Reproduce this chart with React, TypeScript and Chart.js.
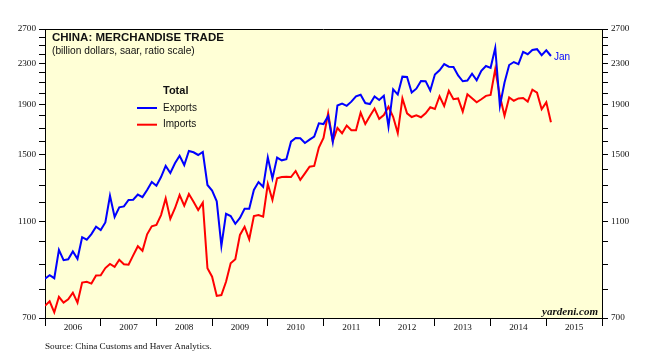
import React, { useEffect, useRef } from 'react';
import { Chart, registerables } from 'chart.js';

Chart.register(...registerables);

// Monthly, seasonally adjusted annual rate, billion dollars.
// First observation = Dec 2005 (plotted at month end), last = Jan 2015.
const firstPointYear = 2006;
const exportsData = [
  841, 855, 843, 962, 917, 921, 955, 923, 1021, 1009, 1036, 1072,
  1056, 1094, 1239, 1122, 1174, 1179, 1215, 1216, 1246, 1231, 1273, 1321,
  1298, 1352, 1424, 1378, 1442, 1494, 1430, 1527, 1518, 1499, 1520, 1303,
  1269, 1207, 980, 1139, 1127, 1087, 1117, 1166, 1166, 1273, 1321, 1292,
  1483, 1344, 1481, 1462, 1470, 1595, 1623, 1621, 1585, 1610, 1633, 1738,
  1732, 1798, 1595, 1889, 1905, 1886, 1923, 1972, 1986, 1911, 1902, 1970,
  1938, 1977, 1711, 2038, 1988, 2161, 2158, 2007, 2043, 2118, 2116, 2026,
  2183, 2226, 2291, 2264, 2261, 2173, 2115, 2123, 2191, 2125, 2221, 2271,
  2252, 2471, 1884, 2103, 2282, 2314, 2291, 2427, 2400, 2448, 2457, 2389,
  2444, 2380,
];
const importsData = [
  741, 757, 719, 773, 752, 764, 788, 752, 826, 829, 822, 854,
  855, 884, 901, 889, 919, 900, 898, 938, 979, 958, 1035, 1074,
  1081, 1132, 1224, 1112, 1169, 1243, 1183, 1249, 1205, 1159, 1200, 883,
  849, 776, 779, 829, 904, 921, 1032, 1072, 1011, 1127, 1132, 1124,
  1309, 1215, 1344, 1352, 1354, 1352, 1391, 1334, 1376, 1419, 1424, 1552,
  1624, 1821, 1599, 1700, 1659, 1720, 1682, 1682, 1826, 1732, 1798, 1862,
  1775, 1807, 1878, 1792, 1661, 1953, 1821, 1790, 1804, 1788, 1821, 1873,
  1858, 1972, 1884, 2023, 1945, 1952, 1835, 1991, 1953, 1917, 1945, 1976,
  1984, 2238, 1974, 1801, 1961, 1931, 1952, 1956, 1923, 2033, 2005, 1856,
  1917, 1746,
];
const yearLabels = ['2006', '2007', '2008', '2009', '2010', '2011', '2012', '2013', '2014', '2015'];
const yTickValues = [700, 800, 900, 1000, 1100, 1200, 1300, 1400, 1500, 1600, 1700, 1800, 1900, 2000, 2100, 2200, 2300, 2400, 2500, 2600, 2700];
const yLabelValues = [700, 1100, 1500, 1900, 2300, 2700];
const yMin = 700;
const yMax = 2700;

const titleText = 'CHINA: MERCHANDISE TRADE';
const subtitleText = '(billion dollars, saar, ratio scale)';
const legendTitle = 'Total';
const seriesNames = ['Exports', 'Imports'];
const seriesColors = ['#0000ff', '#ff0000'];
const lastLabel = 'Jan';
const sourceText = 'Source: China Customs and Haver Analytics.';
const brandText = 'yardeni.com';

const SERIF = "'Liberation Serif', 'Times New Roman', serif";
const SANS = "'Liberation Sans', Arial, sans-serif";

const toPoints = (arr: number[]) =>
  arr.map((v, i) => ({ x: firstPointYear + i / 12, y: v }));

export default function App() {
  const canvasRef = useRef<HTMLCanvasElement | null>(null);

  useEffect(() => {
    const canvas = canvasRef.current;
    if (!canvas) return;

    const decor = {
      id: 'decor',
      beforeDraw(chart: any) {
        const { ctx, chartArea: a } = chart;
        ctx.save();
        ctx.fillStyle = '#ffffff';
        ctx.fillRect(0, 0, chart.width, chart.height);
        ctx.fillStyle = '#ffffd6';
        ctx.fillRect(a.left, a.top, a.right - a.left, a.bottom - a.top);
        ctx.restore();
      },
      afterDraw(chart: any) {
        const { ctx, chartArea: a } = chart;
        ctx.save();
        // frame
        ctx.strokeStyle = '#000';
        ctx.lineWidth = 1;
        ctx.beginPath();
        ctx.moveTo(a.left, a.top + 0.5);
        ctx.lineTo(a.right, a.top + 0.5);
        ctx.stroke();

        ctx.fillStyle = '#111';
        ctx.textAlign = 'left';
        ctx.textBaseline = 'middle';
        ctx.font = `bold 11.5px ${SANS}`;
        ctx.fillText(titleText, a.left + 7, a.top + 9);
        ctx.font = `10.2px ${SANS}`;
        ctx.fillText(subtitleText, a.left + 7, a.top + 22.5);

        // legend
        const lx = a.left + 118;
        ctx.font = `bold 11px ${SANS}`;
        ctx.fillText(legendTitle, lx, a.top + 62);
        ctx.font = `10px ${SANS}`;
        seriesNames.forEach((n, i) => {
          const y = a.top + 79 + i * 16.7;
          ctx.strokeStyle = seriesColors[i];
          ctx.lineWidth = 2;
          ctx.beginPath();
          ctx.moveTo(lx - 26, y);
          ctx.lineTo(lx - 6, y);
          ctx.stroke();
          ctx.fillStyle = '#111';
          ctx.fillText(n, lx, y);
        });

        // last point label
        const xs = chart.scales.x;
        const ys = chart.scales.y;
        const lastIdx = exportsData.length - 1;
        const px = xs.getPixelForValue(firstPointYear + lastIdx / 12);
        const py = ys.getPixelForValue(exportsData[lastIdx]);
        ctx.fillStyle = seriesColors[0];
        ctx.font = `10px ${SANS}`;
        ctx.fillText(lastLabel, px + 3, py + 1);

        // brand
        ctx.fillStyle = '#111';
        ctx.textAlign = 'right';
        ctx.font = `italic bold 11px ${SERIF}`;
        ctx.fillText(brandText, a.right - 4, a.bottom - 6);

        // source
        ctx.textAlign = 'left';
        ctx.font = `9.2px ${SERIF}`;
        ctx.fillText(sourceText, a.left, 347);
        ctx.restore();
      },
    };

    const yAxis = (position: 'left' | 'right', width: number) => ({
      type: 'logarithmic' as const,
      position,
      min: yMin,
      max: yMax,
      afterBuildTicks: (scale: any) => {
        scale.ticks = yTickValues.map((v) => ({ value: v }));
      },
      afterFit: (scale: any) => {
        scale.width = width;
      },
      ticks: {
        autoSkip: false,
        padding: 3,
        color: '#111',
        font: { family: SERIF, size: 9.2 },
        callback: (v: any) => (yLabelValues.includes(Number(v)) ? String(v) : ''),
      },
      grid: {
        drawOnChartArea: false,
        drawTicks: true,
        tickLength: 6,
        color: '#000',
      },
      border: { display: true, color: '#000', width: 1 },
    });

    const xTickValues: number[] = [];
    for (let i = 0; i <= yearLabels.length * 2; i++) xTickValues.push(2006 + i / 2);

    const chart = new Chart(canvas, {
      type: 'line',
      data: {
        datasets: [
          {
            label: seriesNames[0],
            data: toPoints(exportsData),
            borderColor: seriesColors[0],
            borderWidth: 2,
            pointRadius: 0,
            tension: 0,
            yAxisID: 'y',
          },
          {
            label: seriesNames[1],
            data: toPoints(importsData),
            borderColor: seriesColors[1],
            borderWidth: 2,
            pointRadius: 0,
            tension: 0,
            yAxisID: 'y',
          },
        ],
      },
      options: {
        animation: false,
        responsive: false,
        maintainAspectRatio: false,
        layout: { padding: { top: 29, left: 0, right: 0, bottom: 0 } },
        plugins: { legend: { display: false }, tooltip: { enabled: false } },
        scales: {
          x: {
            type: 'linear',
            min: 2006,
            max: 2006 + yearLabels.length,
            afterBuildTicks: (scale: any) => {
              scale.ticks = xTickValues.map((v) => ({ value: v }));
            },
            afterFit: (scale: any) => {
              scale.height = 46;
            },
            ticks: {
              autoSkip: false,
              maxRotation: 0,
              minRotation: 0,
              padding: -4,
              color: '#111',
              font: { family: SERIF, size: 9.2 },
              callback: (v: any) => {
                const n = Number(v);
                if (Math.abs(n % 1 - 0.5) < 1e-6) return yearLabels[Math.floor(n) - 2006] ?? '';
                return '';
              },
            },
            grid: {
              drawOnChartArea: false,
              drawTicks: true,
              tickLength: 8,
              color: (c: any) =>
                c.tick && Math.abs(c.tick.value % 1) < 1e-6 ? '#000' : 'rgba(0,0,0,0)',
            },
            border: { display: true, color: '#000', width: 1 },
          },
          y: yAxis('left', 45),
          y2: yAxis('right', 51),
        },
      },
      plugins: [decor],
    });

    return () => chart.destroy();
  }, []);

  return (
    <div style={{ position: 'fixed', left: 0, top: 0, width: 653, height: 364, background: '#fff' }}>
      <canvas ref={canvasRef} width={653} height={364} style={{ display: 'block' }} />
    </div>
  );
}
